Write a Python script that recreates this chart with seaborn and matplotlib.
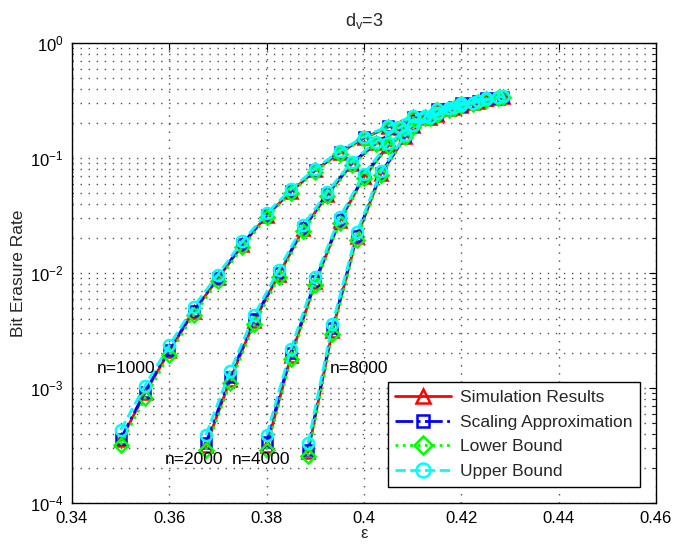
import numpy as np
import pandas as pd
import matplotlib
matplotlib.use("Agg")
import matplotlib.pyplot as plt
import seaborn as sns
from matplotlib.lines import Line2D
from matplotlib.ticker import LogLocator, FixedLocator, NullFormatter

# ---------------- data ----------------
eps_1000 = [0.350, 0.355, 0.360, 0.365, 0.370, 0.375, 0.380, 0.385, 0.390, 0.395,
            0.400, 0.405, 0.410, 0.415, 0.420, 0.425]
sim_1000 = [3.5e-4, 9.0e-4, 2.1e-3, 4.6e-3, 9.0e-3, 1.75e-2, 3.15e-2, 5.1e-2, 7.8e-2, 0.111,
            0.149, 0.186, 0.226, 0.263, 0.296, 0.328]
scl_1000 = [3.6e-4, 9.3e-4, 2.15e-3, 4.7e-3, 9.1e-3, 1.78e-2, 3.2e-2, 5.2e-2, 7.9e-2, 0.113,
            0.151, 0.188, 0.228, 0.265, 0.298, 0.330]
low_1000 = [3.2e-4, 8.2e-4, 1.95e-3, 4.3e-3, 8.5e-3, 1.68e-2, 3.05e-2, 5.0e-2, 7.6e-2, 0.109,
            0.147, 0.184, 0.224, 0.261, 0.294, 0.326]
upp_1000 = [4.3e-4, 1.05e-3, 2.35e-3, 5.1e-3, 9.7e-3, 1.88e-2, 3.3e-2, 5.35e-2, 8.1e-2, 0.115,
            0.153, 0.190, 0.230, 0.267, 0.300, 0.332]

eps_2000 = [0.3675, 0.3725, 0.3775, 0.3825, 0.3875, 0.3925, 0.3975, 0.4025, 0.4075, 0.4125,
            0.4175, 0.4225, 0.4275]
sim_2000 = [3.1e-4, 1.18e-3, 3.85e-3, 9.7e-3, 2.4e-2, 4.8e-2, 8.9e-2, 0.134, 0.181, 0.226,
            0.266, 0.298, 0.333]
scl_2000 = [3.3e-4, 1.25e-3, 4.0e-3, 1.0e-2, 2.45e-2, 4.9e-2, 9.0e-2, 0.136, 0.183, 0.228,
            0.268, 0.300, 0.335]
low_2000 = [2.9e-4, 1.1e-3, 3.6e-3, 9.2e-3, 2.3e-2, 4.65e-2, 8.7e-2, 0.132, 0.179, 0.224,
            0.264, 0.296, 0.331]
upp_2000 = [3.9e-4, 1.4e-3, 4.35e-3, 1.07e-2, 2.6e-2, 5.1e-2, 9.3e-2, 0.139, 0.186, 0.231,
            0.271, 0.303, 0.338]

eps_4000 = [0.380, 0.385, 0.390, 0.395, 0.400, 0.405, 0.410, 0.415, 0.420, 0.425]
sim_4000 = [3.1e-4, 1.9e-3, 8.3e-3, 2.82e-2, 6.9e-2, 0.128, 0.188, 0.238, 0.283, 0.323]
scl_4000 = [3.4e-4, 2.0e-3, 8.6e-3, 2.9e-2, 7.0e-2, 0.130, 0.190, 0.240, 0.285, 0.325]
low_4000 = [2.9e-4, 1.78e-3, 7.9e-3, 2.72e-2, 6.7e-2, 0.126, 0.186, 0.236, 0.281, 0.321]
upp_4000 = [3.9e-4, 2.2e-3, 9.2e-3, 3.05e-2, 7.3e-2, 0.134, 0.194, 0.244, 0.289, 0.329]

eps_8000 = [0.3885, 0.3935, 0.3985, 0.4035, 0.4085, 0.4135, 0.4185, 0.4235, 0.4285]
sim_8000 = [2.75e-4, 3.15e-3, 2.05e-2, 7.3e-2, 0.153, 0.223, 0.273, 0.308, 0.338]
scl_8000 = [2.9e-4, 3.3e-3, 2.1e-2, 7.4e-2, 0.155, 0.225, 0.275, 0.310, 0.340]
low_8000 = [2.55e-4, 2.95e-3, 1.95e-2, 7.1e-2, 0.151, 0.221, 0.271, 0.306, 0.336]
upp_8000 = [3.3e-4, 3.6e-3, 2.25e-2, 7.7e-2, 0.158, 0.228, 0.278, 0.313, 0.343]

block_sizes = [1000, 2000, 4000, 8000]
series_names = ["Simulation Results", "Scaling Approximation", "Lower Bound", "Upper Bound"]
x_ticks = [0.34, 0.36, 0.38, 0.40, 0.42, 0.44, 0.46]
x_tick_labels = ["0.34", "0.36", "0.38", "0.4", "0.42", "0.44", "0.46"]

eps_by_n = {1000: eps_1000, 2000: eps_2000, 4000: eps_4000, 8000: eps_8000}
vals_by_n = {
    1000: [sim_1000, scl_1000, low_1000, upp_1000],
    2000: [sim_2000, scl_2000, low_2000, upp_2000],
    4000: [sim_4000, scl_4000, low_4000, upp_4000],
    8000: [sim_8000, scl_8000, low_8000, upp_8000],
}

rows = []
for n in block_sizes:
    for s, vals in zip(series_names, vals_by_n[n]):
        for e, v in zip(eps_by_n[n], vals):
            rows.append({"n": n, "series": s, "eps": e, "ber": v})
df = pd.DataFrame(rows)

# ---------------- style ----------------
sns.set_theme(style="white")
plt.rcParams["font.family"] = ["Liberation Sans", "DejaVu Sans"]
plt.rcParams["mathtext.fontset"] = "custom"
plt.rcParams["mathtext.rm"] = "Liberation Sans"
plt.rcParams["mathtext.it"] = "Liberation Sans"
plt.rcParams["mathtext.default"] = "regular"

styles = {
    "Simulation Results":    dict(color="#ff0000", linestyle="-",  marker="^"),
    "Scaling Approximation": dict(color="#0000ff", linestyle="-.", marker="s"),
    "Lower Bound":           dict(color="#00ff00", linestyle=":",  marker="D"),
    "Upper Bound":           dict(color="#00ffff", linestyle="--", marker="o"),
}
msize = {"Simulation Results": 8, "Scaling Approximation": 7, "Lower Bound": 7, "Upper Bound": 8}

fig = plt.figure(figsize=(6.89, 5.44), dpi=100)
ax = fig.add_axes([72/689, 1-503/544, 584/689, 460/544])

for s in series_names:
    st = styles[s]
    sub = df[df["series"] == s]
    sns.lineplot(data=sub, x="eps", y="ber", units="n", estimator=None, ax=ax,
                 color=st["color"], linestyle=st["linestyle"], marker=st["marker"],
                 markersize=msize[s], markerfacecolor="none", markeredgecolor=st["color"],
                 markeredgewidth=1.8, linewidth=2.0, legend=False, sort=False)

ax.set_yscale("log")
ax.set_xlim(0.34, 0.46)
ax.set_ylim(1e-4, 1)
ax.xaxis.set_major_locator(FixedLocator(x_ticks))
ax.set_xticklabels(x_tick_labels)
ax.yaxis.set_major_locator(LogLocator(base=10, numticks=10))
ax.yaxis.set_minor_locator(LogLocator(base=10, subs=np.arange(2, 10), numticks=20))
ax.yaxis.set_minor_formatter(NullFormatter())

gridkw = dict(color="0.3", linestyle=(0, (1, 4.8)), linewidth=1.0)
ax.grid(True, which="major", axis="both", **gridkw)
ax.grid(True, which="minor", axis="y", **gridkw)
ax.set_axisbelow(True)

ax.tick_params(axis="both", which="both", direction="in", top=True, right=True,
               labelsize=12, colors="black", pad=6)
ax.tick_params(which="major", length=5, width=0.8)
ax.tick_params(which="minor", length=3, width=0.6)
for sp in ax.spines.values():
    sp.set_color("black")
    sp.set_linewidth(1.0)

ax.set_xlabel("ε", fontsize=12, labelpad=0)
ax.set_ylabel("Bit Erasure Rate", fontsize=12.5, labelpad=3)
ax.set_title(r"d$_\mathregular{v}$=3", fontsize=13, pad=12)

txtkw = dict(fontsize=12.5, ha="left", va="center", color="black")
ax.text(0.3451, 1.49e-3, "n=1000", **txtkw)
ax.text(0.3591, 2.37e-4, "n=2000", **txtkw)
ax.text(0.3729, 2.37e-4, "n=4000", **txtkw)
ax.text(0.3930, 1.49e-3, "n=8000", **txtkw)

handles = []
for s in series_names:
    st = styles[s]
    handles.append(Line2D([], [], color=st["color"], linestyle=st["linestyle"],
                          marker=st["marker"], markersize=msize[s] + 2,
                          markerfacecolor="none", markeredgecolor=st["color"],
                          markeredgewidth=1.8, linewidth=2.0))
leg = ax.legend(handles, series_names, loc="lower right",
                bbox_to_anchor=(0.9726, 0.0348), borderaxespad=0, fontsize=12.5,
                handlelength=3.2, handletextpad=0.5, labelspacing=0.55,
                frameon=True, fancybox=False, edgecolor="black", framealpha=1,
                borderpad=0.45)
leg.get_frame().set_linewidth(1.0)

fig.savefig("out.png", dpi=100)
